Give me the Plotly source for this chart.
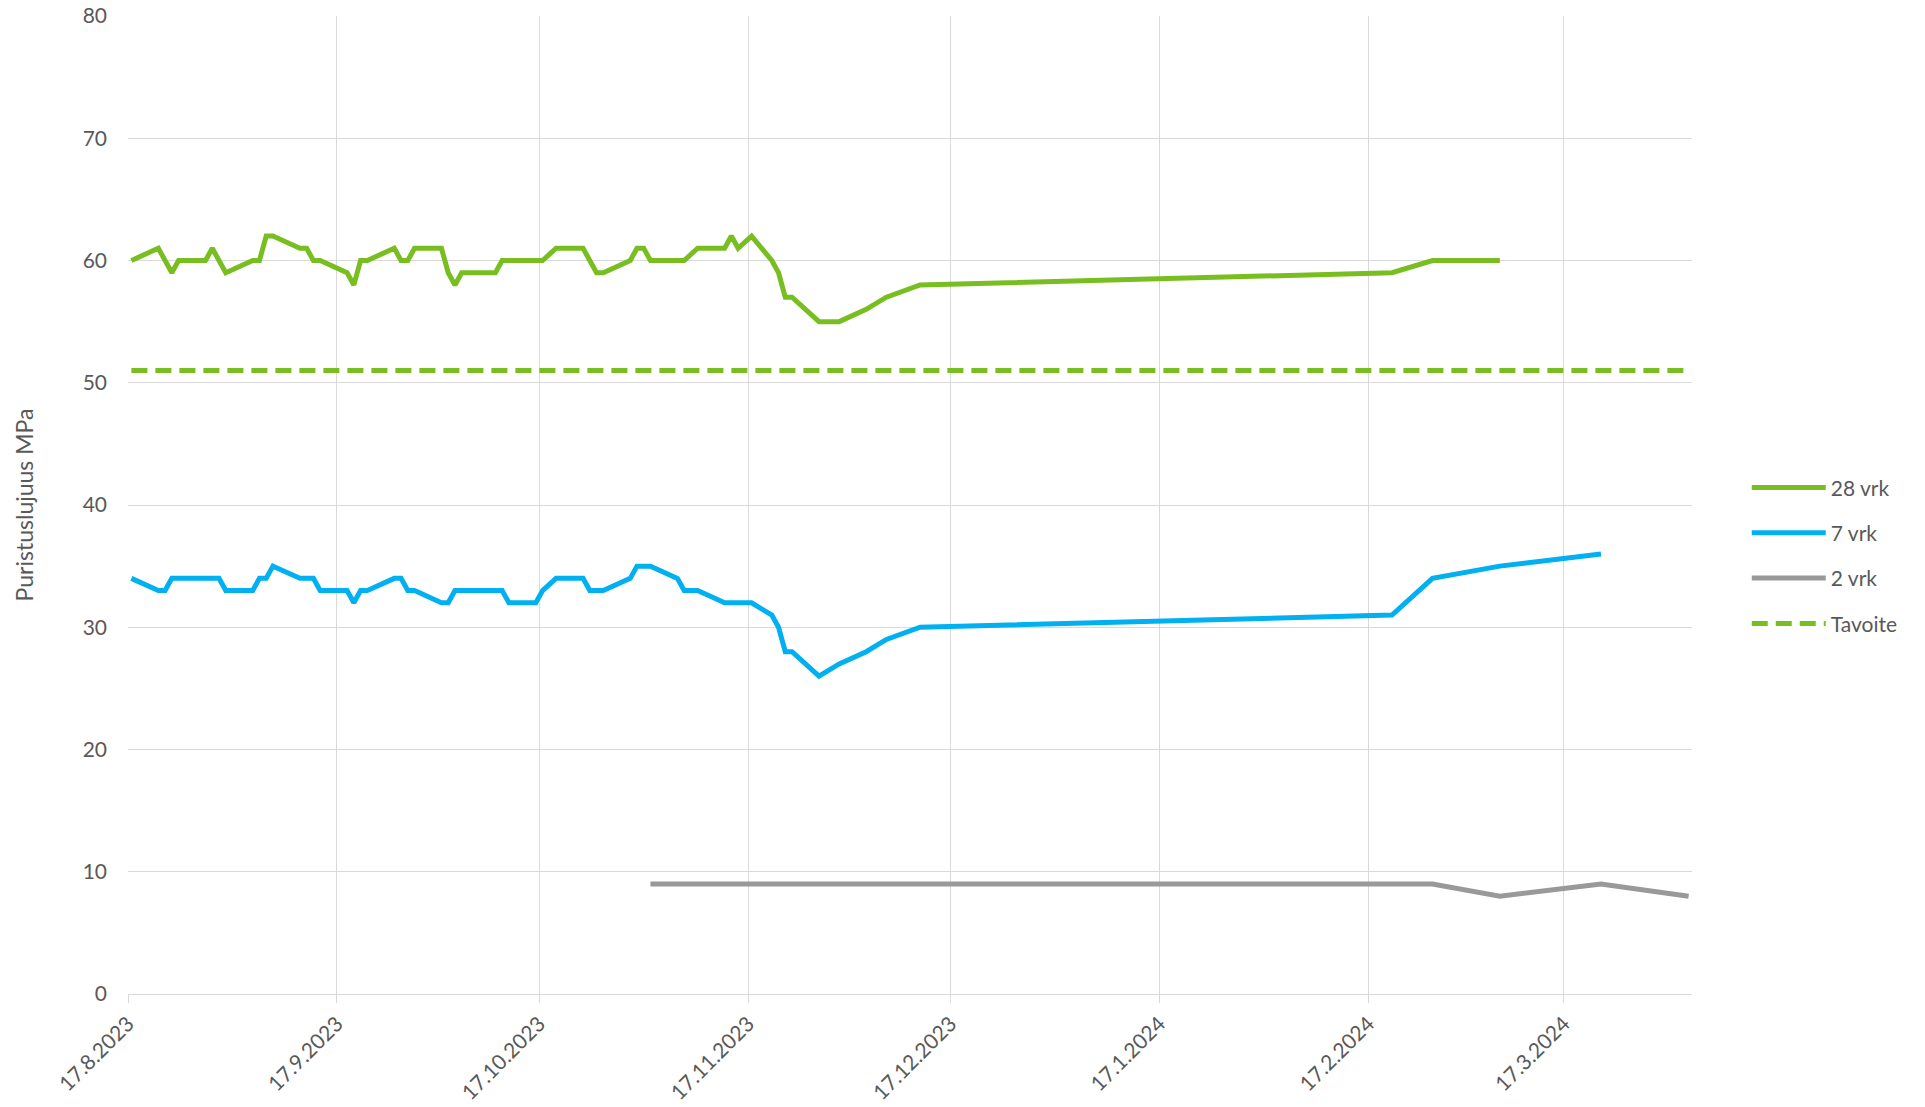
import pandas as pd
import plotly.graph_objects as go

# ---- data ----
dates_28 = ["2023-08-17", "2023-08-21", "2023-08-23", "2023-08-24", "2023-08-28", "2023-08-29",
            "2023-08-31", "2023-09-04", "2023-09-05", "2023-09-06", "2023-09-07", "2023-09-11",
            "2023-09-12", "2023-09-13", "2023-09-14", "2023-09-18", "2023-09-19", "2023-09-20",
            "2023-09-21", "2023-09-25", "2023-09-26", "2023-09-27", "2023-09-28", "2023-10-02",
            "2023-10-03", "2023-10-04", "2023-10-05", "2023-10-10", "2023-10-11", "2023-10-17",
            "2023-10-19", "2023-10-23", "2023-10-25", "2023-10-26", "2023-10-30", "2023-10-31",
            "2023-11-01", "2023-11-02", "2023-11-07", "2023-11-09", "2023-11-13", "2023-11-14",
            "2023-11-15", "2023-11-17", "2023-11-20", "2023-11-21", "2023-11-22", "2023-11-23",
            "2023-11-27", "2023-11-30", "2023-12-04", "2023-12-07", "2023-12-12", "2024-02-20",
            "2024-02-26", "2024-03-07"]
vals_28 = [60, 61, 59, 60, 60, 61,
           59, 60, 60, 62, 62, 61,
           61, 60, 60, 59, 58, 60,
           60, 61, 60, 60, 61, 61,
           59, 58, 59, 59, 60, 60,
           61, 61, 59, 59, 60, 61,
           61, 60, 60, 61, 61, 62,
           61, 62, 60, 59, 57, 57,
           55, 55, 56, 57, 58, 59,
           60, 60]

dates_7 = ["2023-08-17", "2023-08-21", "2023-08-22", "2023-08-23", "2023-08-30", "2023-08-31",
           "2023-09-04", "2023-09-05", "2023-09-06", "2023-09-07", "2023-09-11", "2023-09-13",
           "2023-09-14", "2023-09-18", "2023-09-19", "2023-09-20", "2023-09-21", "2023-09-25",
           "2023-09-26", "2023-09-27", "2023-09-28", "2023-10-02", "2023-10-03", "2023-10-04",
           "2023-10-05", "2023-10-11", "2023-10-12", "2023-10-16", "2023-10-17", "2023-10-19",
           "2023-10-23", "2023-10-24", "2023-10-26", "2023-10-30", "2023-10-31", "2023-11-02",
           "2023-11-06", "2023-11-07", "2023-11-09", "2023-11-13", "2023-11-17", "2023-11-20",
           "2023-11-21", "2023-11-22", "2023-11-23", "2023-11-27", "2023-11-30", "2023-12-04",
           "2023-12-07", "2023-12-12", "2024-02-20", "2024-02-26", "2024-03-07", "2024-03-22"]
vals_7 = [34, 33, 33, 34, 34, 33,
          33, 34, 34, 35, 34, 34,
          33, 33, 32, 33, 33, 34,
          34, 33, 33, 32, 32, 33,
          33, 33, 32, 32, 33, 34,
          34, 33, 33, 34, 35, 35,
          34, 33, 33, 32, 32, 31,
          30, 28, 28, 26, 27, 28,
          29, 30, 31, 34, 35, 36]

dates_2 = ["2023-11-02", "2024-02-26", "2024-03-07", "2024-03-22", "2024-04-04"]
vals_2 = [9, 9, 8, 9, 8]

dates_target = ["2023-08-17", "2024-04-04"]
vals_target = [51, 51]

tick_labels = ["17.8.2023", "17.9.2023", "17.10.2023", "17.11.2023", "17.12.2023",
               "17.1.2024", "17.2.2024", "17.3.2024"]

# ---- styling ----
GREEN = "#78BE21"
BLUE = "#00B0F0"
GRAY = "#999999"
TXT = "#595959"
GRID = "#D9D9D9"
FONT = "Lato, 'Open Sans', sans-serif"
LW = 5
half_day = pd.Timedelta(hours=12)

fig = go.Figure()
fig.add_trace(go.Scatter(x=pd.to_datetime(dates_28), y=vals_28, name="28 vrk", mode="lines",
                         line=dict(color=GREEN, width=LW), legendgroup="a"))
fig.add_trace(go.Scatter(x=pd.to_datetime(dates_7), y=vals_7, name="7 vrk", mode="lines",
                         line=dict(color=BLUE, width=LW), legendgroup="b"))
fig.add_trace(go.Scatter(x=pd.to_datetime(dates_2), y=vals_2, name="2 vrk", mode="lines",
                         line=dict(color=GRAY, width=LW), legendgroup="c"))
fig.add_trace(go.Scatter(x=pd.to_datetime(dates_target), y=vals_target, name="Tavoite", mode="lines",
                         line=dict(color=GREEN, width=LW, dash="16px,8px"), legendgroup="d"))

tick_vals = [pd.to_datetime(t, format="%d.%m.%Y") - half_day for t in tick_labels]
x_start = pd.to_datetime(dates_28[0]) - half_day
x_end = pd.to_datetime(dates_2[-1]) + half_day

fig.update_layout(
    width=1925, height=1107,
    margin=dict(l=128, r=233, t=16, b=113, autoexpand=False),
    paper_bgcolor="white", plot_bgcolor="white",
    font=dict(family=FONT, size=21, color=TXT),
    showlegend=True,
    legend=dict(x=1.035, xanchor="left", y=0.448, yanchor="middle",
                font=dict(family=FONT, size=21, color=TXT),
                traceorder="grouped", tracegroupgap=15, itemwidth=74,
                bgcolor="rgba(0,0,0,0)"),
)
fig.update_xaxes(
    range=[x_start, x_end], tickmode="array", tickvals=tick_vals, ticktext=tick_labels,
    tickangle=-45, showgrid=True, gridcolor=GRID, gridwidth=1.3,
    ticks="outside", ticklen=8, tickcolor=GRID, tickwidth=1.3,
    showline=True, linecolor=GRID, linewidth=1.3, zeroline=False, automargin=False,
    tickfont=dict(family=FONT, size=21, color=TXT),
)
fig.update_yaxes(
    range=[0, 80], dtick=10, showgrid=True, gridcolor=GRID, gridwidth=1.3,
    zeroline=False, showline=False, ticks="", ticklabelstandoff=20, automargin=False,
    tickfont=dict(family=FONT, size=21, color=TXT),
    title=dict(text="Puristuslujuus MPa", font=dict(family=FONT, size=23, color=TXT), standoff=42),
)

fig.write_html("out.html", config={"displayModeBar": False},
               post_script="document.body.style.margin='0px'; document.body.style.overflow='hidden';")
